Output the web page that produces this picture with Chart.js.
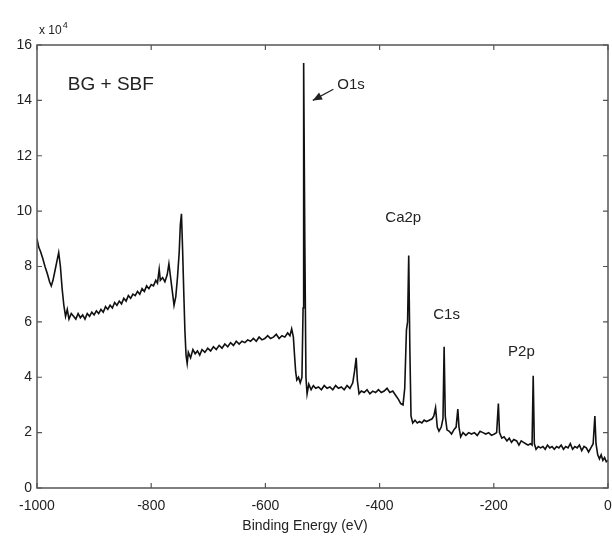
<!DOCTYPE html>
<html>
<head>
<meta charset="utf-8">
<script src="https://cdn.jsdelivr.net/npm/chart.js@4.4.1/dist/chart.umd.min.js"></script>
<style>
  html, body { margin: 0; padding: 0; background: #fff; }
  #wrap { width: 612px; height: 537px; }
</style>
</head>
<body>
<div id="wrap"><canvas id="xps"></canvas></div>
<script>
// binding energy (eV)
const energy = [
  -1000, -997, -994, -990, -986, -982, -978, -975, -972, -968,
  -965, -962, -959, -956, -953, -950, -947, -944, -940, -936,
  -932, -928, -924, -920, -916, -912, -908, -904, -900, -896,
  -892, -888, -884, -880, -876, -872, -868, -864, -860, -856,
  -852, -848, -844, -840, -836, -832, -828, -824, -820, -816,
  -812, -808, -804, -800, -796, -792, -789, -786, -784, -780,
  -776, -772, -769, -766, -763, -760, -757, -754, -751, -749,
  -747, -745, -743, -741, -739, -737, -735, -731, -727, -723,
  -719, -715, -711, -706, -701, -696, -691, -686, -681, -676,
  -671, -666, -661, -656, -651, -646, -641, -636, -631, -626,
  -621, -616, -611, -606, -601, -596, -591, -586, -581, -576,
  -571, -566, -561, -557, -554, -551, -549, -547, -545, -542,
  -539, -536, -534, -533, -531, -529, -527, -524, -520, -516,
  -512, -507, -502, -497, -492, -487, -482, -477, -472, -467,
  -462, -457, -452, -447, -444, -441, -439, -436, -432, -427,
  -422, -417, -412, -407, -402, -397, -392, -387, -382, -377,
  -372, -367, -363, -359, -356, -353, -351, -349, -347, -345,
  -342, -338, -334, -330, -326, -322, -318, -313, -308, -305,
  -302, -299, -296, -292, -289, -287, -285, -282, -278, -274,
  -270, -266, -263, -261, -258, -254, -249, -244, -239, -234,
  -229, -224, -219, -214, -209, -204, -199, -195, -192, -190,
  -186, -182, -177, -173, -169, -165, -160, -156, -152, -148,
  -144, -140, -136, -133, -131, -129, -126, -122, -118, -114,
  -110, -106, -102, -98, -94, -90, -86, -82, -78, -74,
  -70, -66, -62, -58, -54, -50, -46, -42, -38, -34,
  -30, -26, -23, -21, -18, -15, -12, -9, -6, -3,
  0
];

// counts, in units of 10^4
const counts = [
  9.0, 8.7, 8.55, 8.3, 8.0, 7.75, 7.45, 7.3, 7.5, 7.9,
  8.2, 8.5, 8.0, 7.2, 6.6, 6.2, 6.45, 6.1, 6.3, 6.2,
  6.1, 6.3, 6.15, 6.25, 6.1, 6.3, 6.2, 6.35, 6.25, 6.4,
  6.3, 6.45, 6.35, 6.55, 6.45, 6.6, 6.5, 6.7, 6.6, 6.75,
  6.65, 6.85, 6.75, 6.95, 6.85, 7.0, 6.95, 7.1, 7.0, 7.2,
  7.1, 7.3, 7.2, 7.35, 7.3, 7.5, 7.4, 7.9, 7.5, 7.6,
  7.45, 7.7, 8.1, 7.6, 7.1, 6.6, 6.9, 7.6, 8.5, 9.5,
  9.9, 8.6, 7.1, 5.7, 4.8, 4.5, 4.9, 4.7, 5.0, 4.85,
  4.95, 4.8, 5.0, 4.9, 5.05, 4.95, 5.1, 5.0, 5.15, 5.05,
  5.2, 5.1, 5.25, 5.15, 5.3, 5.2, 5.3, 5.25, 5.35, 5.3,
  5.4, 5.3, 5.45, 5.35, 5.4, 5.5, 5.4, 5.45, 5.55, 5.4,
  5.5, 5.45, 5.6, 5.5, 5.75, 5.45, 4.8, 4.2, 3.9, 4.0,
  3.8, 4.0, 6.5, 15.35, 9.0, 4.0, 3.4, 3.75, 3.55, 3.7,
  3.6, 3.65, 3.55, 3.7, 3.6, 3.65, 3.55, 3.7, 3.6, 3.65,
  3.55, 3.7, 3.6, 3.8, 4.2, 4.7, 3.9, 3.4, 3.5, 3.45,
  3.55, 3.4, 3.5, 3.45, 3.55, 3.45, 3.5, 3.6, 3.45, 3.5,
  3.35, 3.2, 3.05, 3.0, 3.6, 5.7, 6.0, 8.4, 5.0, 2.6,
  2.35, 2.45, 2.35, 2.4, 2.35, 2.45, 2.4, 2.45, 2.5, 2.6,
  2.9, 2.2, 2.05, 2.2, 2.5, 5.1, 2.6, 2.1, 2.05, 1.95,
  2.1, 2.2, 2.85, 2.2, 1.85, 2.0, 1.9, 2.0, 1.95, 2.0,
  1.9, 2.05, 2.0, 1.95, 2.0, 1.9, 1.95, 2.0, 3.05, 2.0,
  1.8, 1.85, 1.7, 1.8, 1.65, 1.75, 1.7, 1.55, 1.7, 1.65,
  1.6, 1.55, 1.6, 1.55, 4.05, 1.6, 1.4, 1.5, 1.45, 1.5,
  1.4, 1.55, 1.45, 1.5, 1.4, 1.5, 1.45, 1.55, 1.4, 1.5,
  1.45, 1.6, 1.4, 1.5, 1.45, 1.55, 1.35, 1.5, 1.45, 1.3,
  1.45, 1.6, 2.6, 1.6, 1.2, 1.05, 1.2, 1.0, 1.1, 0.95,
  1.0
];

const xTicks = [-1000, -800, -600, -400, -200, 0];
const yTicks = [0, 2, 4, 6, 8, 10, 12, 14, 16];

// peak labels, placed in data coordinates (left edge, middle)
const peakLabels = ['O1s', 'Ca2p', 'C1s', 'P2p'];
const peakLabelX = [-474, -390, -306, -175];
const peakLabelY = [14.55, 9.75, 6.25, 4.9];

const FONT = '"Liberation Sans", Arial, Helvetica, sans-serif';
const INK = '#222';
const FRAME = '#555';

const points = energy.map((e, i) => ({ x: e, y: counts[i] }));

// MATLAB-ish frame: box, inward ticks, labels and the O1s arrow
const framePlugin = {
  id: 'frame',
  afterDatasetsDraw(chart) {
    const { ctx, chartArea: a, scales: { x, y } } = chart;
    ctx.save();
    ctx.strokeStyle = FRAME;
    ctx.lineWidth = 1.5;
    ctx.strokeRect(a.left, a.top, a.right - a.left, a.bottom - a.top);

    // inward tick marks on all four sides
    ctx.lineWidth = 1.2;
    ctx.beginPath();
    xTicks.forEach(v => {
      const px = x.getPixelForValue(v);
      ctx.moveTo(px, a.bottom); ctx.lineTo(px, a.bottom - 5);
      ctx.moveTo(px, a.top); ctx.lineTo(px, a.top + 5);
    });
    yTicks.forEach(v => {
      const py = y.getPixelForValue(v);
      ctx.moveTo(a.left, py); ctx.lineTo(a.left + 5, py);
      ctx.moveTo(a.right, py); ctx.lineTo(a.right - 5, py);
    });
    ctx.stroke();

    ctx.fillStyle = INK;
    ctx.textBaseline = 'middle';
    ctx.textAlign = 'left';

    // exponent over the y axis
    ctx.font = '12px ' + FONT;
    ctx.fillText('x 10', a.left + 2, a.top - 14);
    const w = ctx.measureText('x 10').width;
    ctx.font = '9px ' + FONT;
    ctx.fillText('4', a.left + 3 + w, a.top - 19);

    // sample name
    ctx.font = '19px ' + FONT;
    ctx.fillText('BG + SBF', x.getPixelForValue(-946), y.getPixelForValue(14.55));

    // peak names
    ctx.font = '15px ' + FONT;
    peakLabels.forEach((t, i) => {
      ctx.fillText(t, x.getPixelForValue(peakLabelX[i]), y.getPixelForValue(peakLabelY[i]));
    });

    // arrow from O1s label to the peak
    const x0 = x.getPixelForValue(-481), y0 = y.getPixelForValue(14.4);
    const x1 = x.getPixelForValue(-517), y1 = y.getPixelForValue(14.0);
    const ang = Math.atan2(y1 - y0, x1 - x0);
    ctx.strokeStyle = INK;
    ctx.lineWidth = 1.2;
    ctx.beginPath();
    ctx.moveTo(x0, y0); ctx.lineTo(x1, y1);
    ctx.stroke();
    ctx.beginPath();
    ctx.moveTo(x1, y1);
    ctx.lineTo(x1 - 10 * Math.cos(ang - 0.4), y1 - 10 * Math.sin(ang - 0.4));
    ctx.lineTo(x1 - 10 * Math.cos(ang + 0.4), y1 - 10 * Math.sin(ang + 0.4));
    ctx.closePath();
    ctx.fill();

    // axis title
    ctx.textAlign = 'center';
    ctx.font = '14px ' + FONT;
    ctx.fillText('Binding Energy (eV)', 305, a.bottom + 38);
    ctx.restore();
  }
};

new Chart(document.getElementById('xps'), {
  type: 'line',
  data: {
    datasets: [{
      data: points,
      borderColor: '#111',
      borderWidth: 1.6,
      pointRadius: 0,
      tension: 0,
      fill: false
    }]
  },
  options: {
    responsive: true,
    maintainAspectRatio: false,
    animation: false,
    layout: { padding: { top: 45, right: 4, left: 0, bottom: 0 } },
    plugins: { legend: { display: false }, tooltip: { enabled: false } },
    scales: {
      x: {
        type: 'linear',
        min: -1000,
        max: 0,
        afterFit: s => { s.height = 49; s.paddingRight = 0; s.paddingLeft = 0; },
        afterBuildTicks: s => { s.ticks = xTicks.map(v => ({ value: v })); },
        grid: { display: false, drawTicks: false },
        border: { display: false },
        ticks: {
          color: INK,
          font: { family: FONT, size: 14 },
          padding: 10,
          maxRotation: 0,
          autoSkip: false,
          callback: v => String(v)
        }
      },
      y: {
        min: 0,
        max: 16,
        afterFit: s => { s.width = 37; s.paddingTop = 0; s.paddingBottom = 0; },
        afterBuildTicks: s => { s.ticks = yTicks.map(v => ({ value: v })); },
        grid: { display: false, drawTicks: false },
        border: { display: false },
        ticks: {
          color: INK,
          font: { family: FONT, size: 14 },
          padding: 5,
          callback: v => String(v)
        }
      }
    }
  },
  plugins: [framePlugin]
});
</script>
</body>
</html>
